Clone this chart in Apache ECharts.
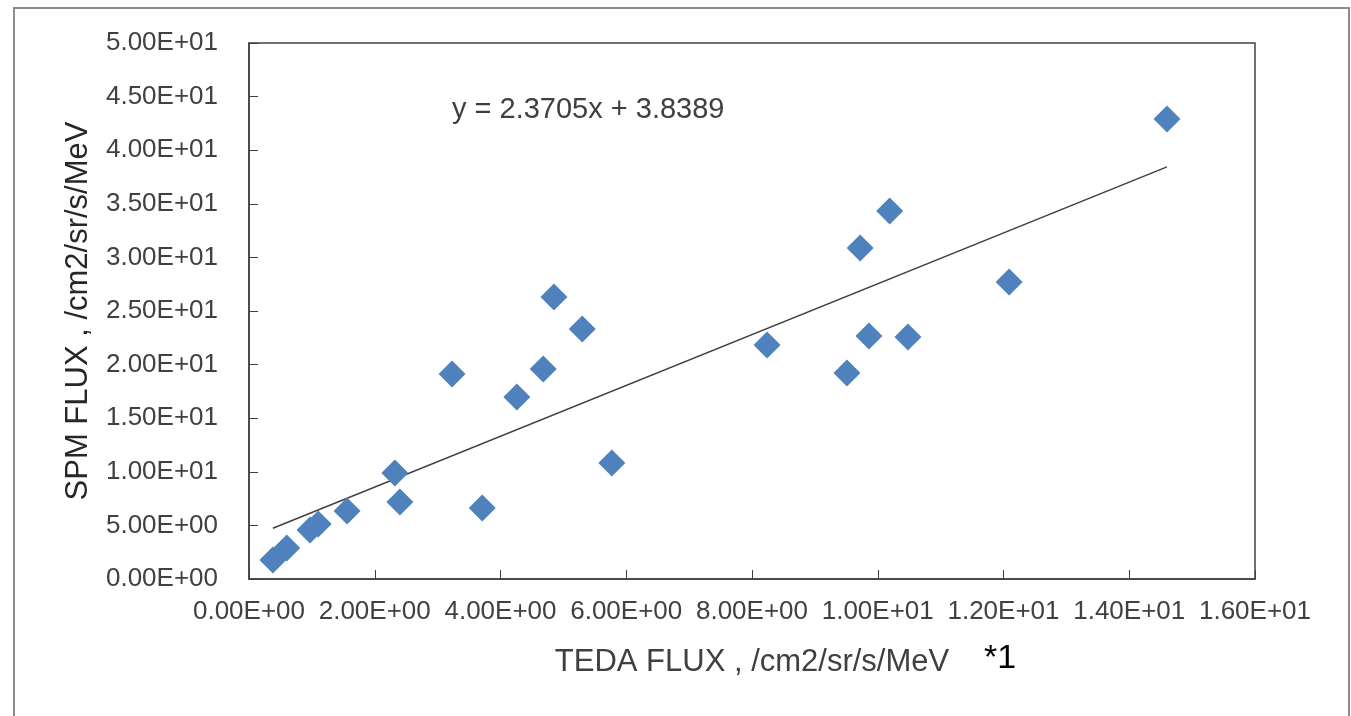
<!DOCTYPE html>
<html>
<head>
<meta charset="utf-8">
<script src="https://cdn.jsdelivr.net/npm/echarts@6/dist/echarts.min.js"></script>
<style>
  html, body { margin: 0; padding: 0; background: #fff; }
  #chart { width: 1351px; height: 716px; }
</style>
</head>
<body>
<div id="chart"></div>
<script>
// TEDA vs SPM flux
const tedaFlux = [0.38, 0.60, 0.97, 1.10, 1.56, 2.32, 2.40, 3.23, 3.71, 4.26, 4.68,
  4.85, 5.30, 5.77, 8.24, 9.51, 9.72, 9.86, 10.19, 10.48, 12.09, 14.60]
const spmFlux = [1.77, 2.89, 4.57, 5.13, 6.34, 9.89, 7.18, 19.12, 6.62, 16.98, 19.59,
  26.31, 23.32, 10.82, 21.83, 19.22, 30.88, 22.67, 34.33, 22.57, 27.71, 42.91]

// linear trendline shown on the chart
const slope = 2.3705
const intercept = 3.8389

const xTickLabels = ['0.00E+00', '2.00E+00', '4.00E+00', '6.00E+00', '8.00E+00',
  '1.00E+01', '1.20E+01', '1.40E+01', '1.60E+01']
const yTickLabels = ['0.00E+00', '5.00E+00', '1.00E+01', '1.50E+01', '2.00E+01',
  '2.50E+01', '3.00E+01', '3.50E+01', '4.00E+01', '4.50E+01', '5.00E+01']

const FONT = '"Liberation Sans", Arial, sans-serif'

const points = tedaFlux.map((x, i) => [x, spmFlux[i]])
const xMin = Math.min(...tedaFlux)
const xMax = Math.max(...tedaFlux)
const trend = [xMin, xMax].map((x) => [x, slope * x + intercept])

const chart = echarts.init(document.getElementById('chart'))
chart.setOption({
  animation: false,
  backgroundColor: '#fff',
  grid: {
    left: 249, top: 43, right: 96, bottom: 137,
    show: true, borderColor: '#404040', borderWidth: 1.5, backgroundColor: '#fff',
  },
  xAxis: {
    type: 'value', min: 0, max: 16, interval: 2,
    name: 'TEDA FLUX , /cm2/sr/s/MeV',
    nameLocation: 'middle', nameGap: 68,
    nameTextStyle: { fontFamily: FONT, fontSize: 31, color: '#404040' },
    axisLine: { show: true, lineStyle: { color: '#404040', width: 1.5 } },
    axisTick: { show: true, inside: true, length: 9, lineStyle: { color: '#404040' } },
    axisLabel: {
      fontFamily: FONT, fontSize: 26, color: '#404040', margin: 20,
      formatter: (v) => xTickLabels[Math.round(v / 2)],
    },
    splitLine: { show: false },
  },
  yAxis: {
    type: 'value', min: 0, max: 50, interval: 5,
    name: 'SPM FLUX , /cm2/sr/s/MeV',
    nameLocation: 'middle', nameGap: 155,
    nameTextStyle: { fontFamily: FONT, fontSize: 31, color: '#262626' },
    axisLine: { show: true, lineStyle: { color: '#404040', width: 1.5 } },
    axisTick: { show: true, inside: true, length: 9, lineStyle: { color: '#404040' } },
    axisLabel: {
      fontFamily: FONT, fontSize: 26, color: '#404040', margin: 31,
      formatter: (v) => yTickLabels[Math.round(v / 5)],
    },
    splitLine: { show: false },
  },
  series: [
    {
      name: 'Trend',
      type: 'line',
      data: trend,
      symbol: 'none',
      lineStyle: { color: '#404040', width: 1.5 },
      z: 1,
    },
    {
      name: 'Flux',
      type: 'scatter',
      data: points,
      symbol: 'diamond',
      symbolSize: 27,
      itemStyle: { color: '#4F81BD', opacity: 1 },
      z: 2,
    },
  ],
  graphic: [
    {
      type: 'rect',
      shape: { x: 14, y: 8, width: 1335, height: 720 },
      style: { fill: 'none', stroke: '#8c8c8c', lineWidth: 2 },
      silent: true,
    },
    {
      type: 'text',
      left: 452, top: 95,
      style: { text: 'y = 2.3705x + 3.8389', font: '29px ' + FONT, fill: '#404040' },
    },
    {
      type: 'text',
      left: 984, top: 642,
      style: { text: '*1', font: '34px ' + FONT, fill: '#000' },
    },
  ],
})
</script>
</body>
</html>
